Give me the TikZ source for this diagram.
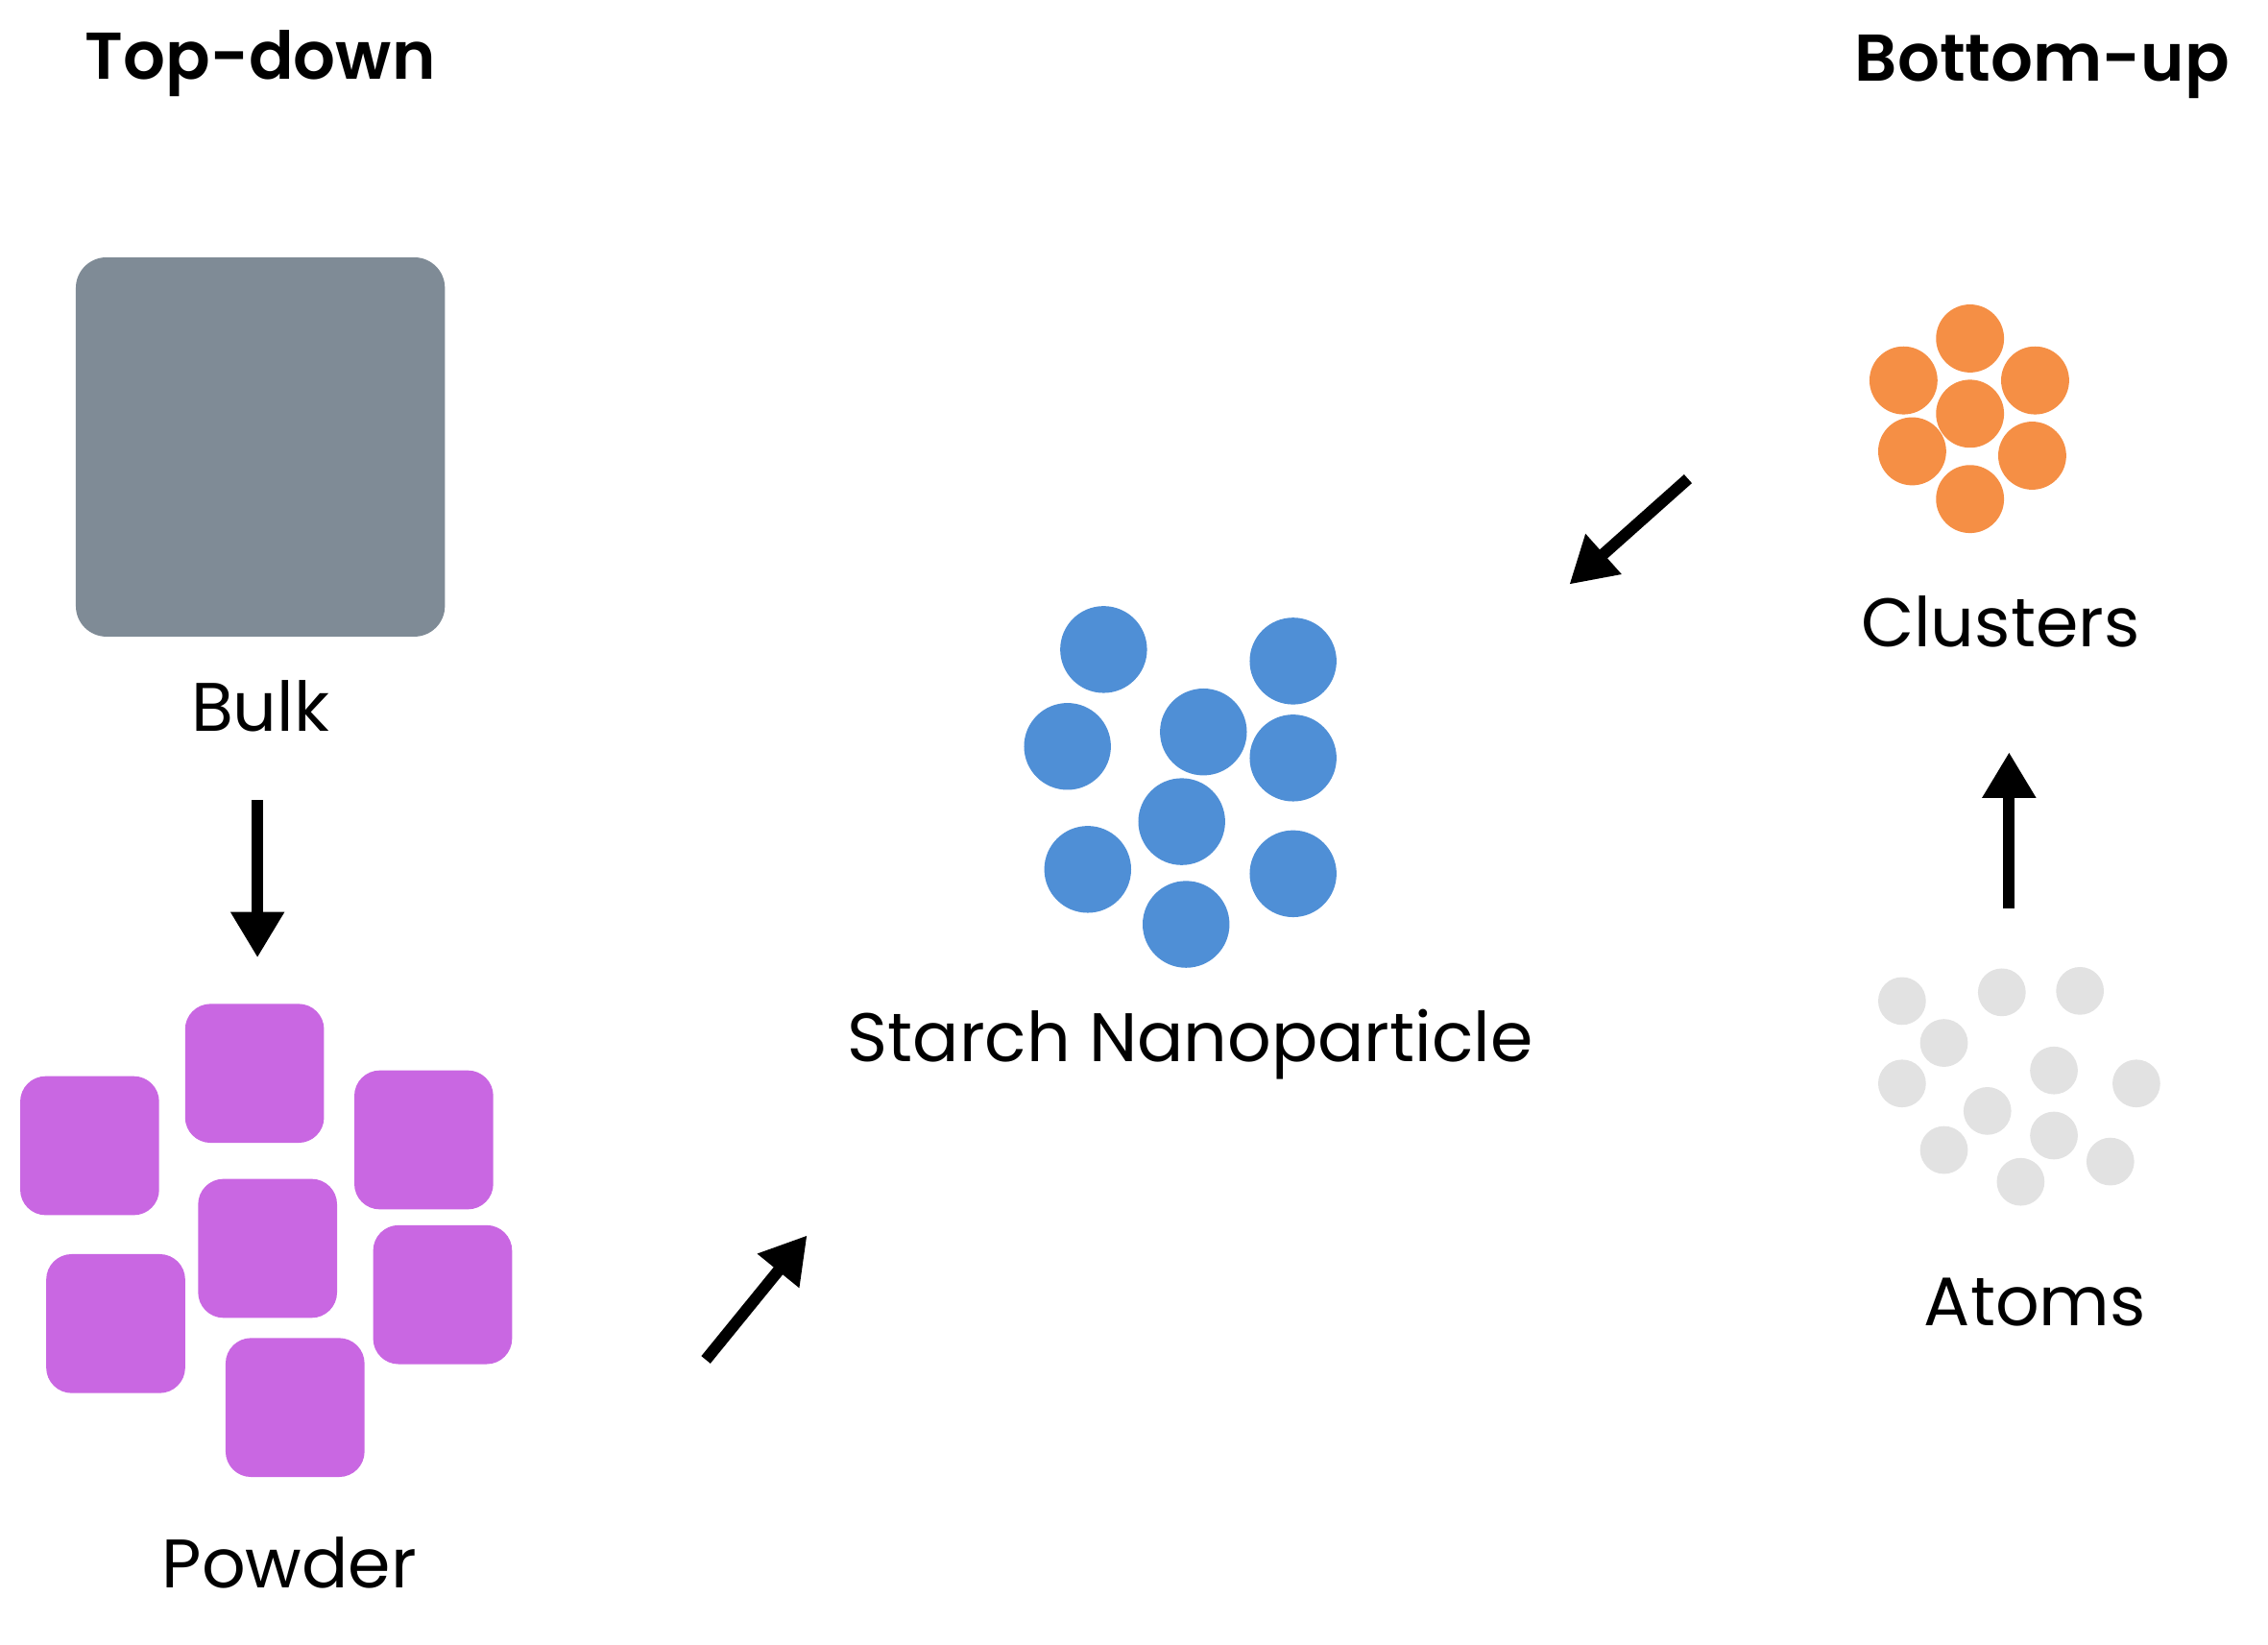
\documentclass[tikz,border=0pt]{standalone}
\usepackage{fontspec}
\setmainfont{Poppins}
\newfontfamily\ttlfont{Poppins SemiBold}
\usetikzlibrary{arrows.meta}
\definecolor{bulkc}{HTML}{7F8B96}
\definecolor{powc}{HTML}{C967E2}
\definecolor{bluc}{HTML}{4F8FD6}
\definecolor{orac}{HTML}{F58F45}
\definecolor{atoc}{HTML}{E2E2E2}
\begin{document}
\begin{tikzpicture}[x=0.01cm,y=-0.01cm,
  lab/.style={font=\fontsize{13.5pt}{15pt}\selectfont},
  ttl/.style={font=\ttlfont\fontsize{13pt}{15pt}\selectfont},
  sq/.style={fill=powc,rounded corners=5pt,minimum size=0.96cm,inner sep=0pt,draw=none},
  bc/.style={circle,fill=bluc,minimum size=0.6cm,inner sep=0pt},
  oc/.style={circle,fill=orac,minimum size=0.47cm,inner sep=0pt},
  ac/.style={circle,fill=atoc,minimum size=0.33cm,inner sep=0pt},
  arr/.style={line width=2.3pt,-{Triangle[length=9pt,width=10pt]}}]
\useasboundingbox (0,0) rectangle (1568,1137);
\node[ttl] (t1) at (180,44) {Top-down};
\node[ttl] (t2) at (1412,46) {Bottom-up};
\node[fill=bulkc,rounded corners=6pt,minimum width=2.55cm,minimum height=2.62cm,inner sep=0pt] (bulk) at (180,309) {};
\node[lab] (lbulk) at (180,488) {Bulk};
\coordinate (a1s) at (178,553); \coordinate (a1e) at (178,662);
\draw[arr] (a1s) -- (a1e);
\foreach \n/\x/\y in {p1/62/792,p2/176/742,p3/293/788,p4/185/863,p5/80/915,p6/306/895,p7/204/973}
  \node[sq] (\n) at (\x,\y) {};
\node[lab] (lpow) at (200,1080) {Powder};
\coordinate (a2s) at (488,940); \coordinate (a2e) at (558,854);
\draw[arr] (a2s) -- (a2e);
\foreach \n/\x/\y in {b1/763/449,b2/894/457,b3/738/516,b4/832/506,b5/894/524,b6/817/568,b7/752/601,b8/894/604,b9/820/639}
  \node[bc] (\n) at (\x,\y) {};
\node[lab] (lsn) at (823,722) {Starch Nanoparticle};
\coordinate (a3s) at (1167,331); \coordinate (a3e) at (1085,404);
\draw[arr] (a3s) -- (a3e);
\foreach \n/\x/\y in {o1/1362/234,o2/1316/263,o3/1407/263,o4/1362/286,o5/1322/312,o6/1405/315,o7/1362/345}
  \node[oc] (\n) at (\x,\y) {};
\node[lab] (lcl) at (1383,430) {Clusters};
\coordinate (a4s) at (1389,628); \coordinate (a4e) at (1389,520);
\draw[arr] (a4s) -- (a4e);
\foreach \n/\x/\y in {c1/1315/692,c2/1384/686,c3/1438/685,c4/1344/721,c5/1420/740,c6/1315/749,c7/1477/749,c8/1374/768,c9/1420/785,c10/1344/795,c11/1459/803,c12/1397/817}
  \node[ac] (\n) at (\x,\y) {};
\node[lab] (lat) at (1407,900) {Atoms};
\end{tikzpicture}
\end{document}
